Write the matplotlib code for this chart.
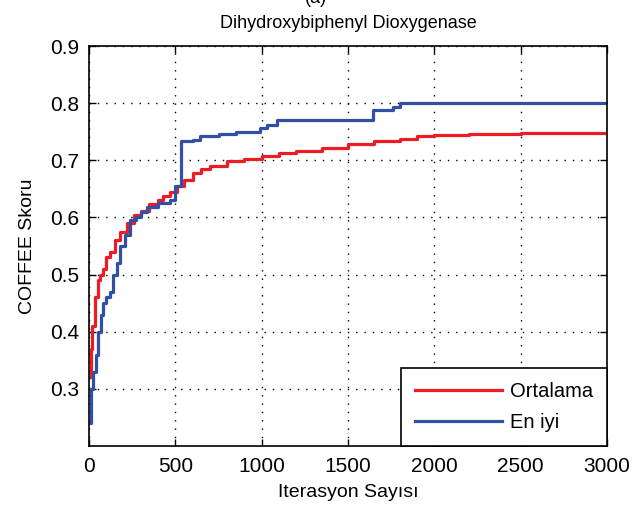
import matplotlib
matplotlib.use("Agg")
import matplotlib.pyplot as plt

plt.rcParams['font.family'] = ['Liberation Sans', 'DejaVu Sans']

# iterasyon / skor okumalari (step grafik)
iter_ort = [0, 10, 20, 35, 50, 65, 80, 100, 120, 150, 180, 220, 260, 300, 350, 400, 430,
            470, 510, 550, 600, 650, 700, 800, 900, 1000, 1100, 1200, 1350, 1500,
            1650, 1800, 1900, 2000, 2200, 2500, 3000]
skor_ort = [0.32, 0.37, 0.41, 0.46, 0.49, 0.50, 0.51, 0.53, 0.54, 0.56, 0.575, 0.59, 0.605,
            0.612, 0.624, 0.63, 0.637, 0.645, 0.655, 0.665, 0.677, 0.685, 0.69, 0.698,
            0.703, 0.707, 0.713, 0.717, 0.722, 0.728, 0.733, 0.738, 0.742, 0.744,
            0.746, 0.747, 0.747]

iter_best = [0, 10, 25, 40, 54, 70, 83, 100, 122, 140, 160, 180, 210, 237, 270, 300, 334,
             400, 469, 498, 535, 600, 643, 750, 850, 990, 1030, 1087, 1400, 1645, 1760,
             1801, 3000]
skor_best = [0.24, 0.30, 0.33, 0.36, 0.40, 0.43, 0.45, 0.46, 0.47, 0.50, 0.52, 0.55, 0.57,
             0.595, 0.60, 0.61, 0.618, 0.625, 0.63, 0.655, 0.733, 0.735, 0.742, 0.746,
             0.750, 0.756, 0.762, 0.771, 0.771, 0.788, 0.793, 0.80, 0.80]

x_ticks = [0, 500, 1000, 1500, 2000, 2500, 3000]
y_ticks = [0.3, 0.4, 0.5, 0.6, 0.7, 0.8, 0.9]

fig = plt.figure(figsize=(6.32, 5.12), dpi=100)
ax = fig.add_axes([89 / 632, 66 / 512, 518 / 632, 400 / 512])

ax.plot(iter_ort, skor_ort, drawstyle='steps-post', color='#ED1C24', lw=2.3, label='Ortalama')
ax.plot(iter_best, skor_best, drawstyle='steps-post', color='#3050A8', lw=2.3, label='En iyi')

ax.set_xlim(0, 3000)
ax.set_ylim(0.2, 0.9)
ax.set_xticks(x_ticks)
ax.set_yticks(y_ticks)
ax.set_xticklabels([str(v) for v in x_ticks])
ax.set_yticklabels(['%.1f' % v for v in y_ticks])
ax.tick_params(direction='in', top=True, right=True, length=5, width=1, labelsize=15)
ax.tick_params(axis='x', pad=8)
ax.tick_params(axis='y', pad=7)
ax.grid(True, color='black', linestyle=(0, (1, 5)), linewidth=1)
for s in ax.spines.values():
    s.set_linewidth(1.2)

ax.set_xlabel('Iterasyon Sayısı', fontsize=14, labelpad=6)
ax.set_ylabel('COFFEE Skoru', fontsize=14, labelpad=10)
ax.set_title('Dihydroxybiphenyl Dioxygenase', fontsize=13, pad=13)
# ustte yarisi kesik etiket (referansta da kesik)
fig.text(0.5, 1 - 7 / 512, '(a)', ha='center', va='bottom', fontsize=13)

leg = ax.legend(loc='lower right', borderaxespad=0, fancybox=False, framealpha=1,
                edgecolor='black', fontsize=14.5, handlelength=4.3, handletextpad=0.4,
                borderpad=0.7, labelspacing=0.6)
leg.get_frame().set_linewidth(1.2)

plt.savefig('out.png', dpi=100)
